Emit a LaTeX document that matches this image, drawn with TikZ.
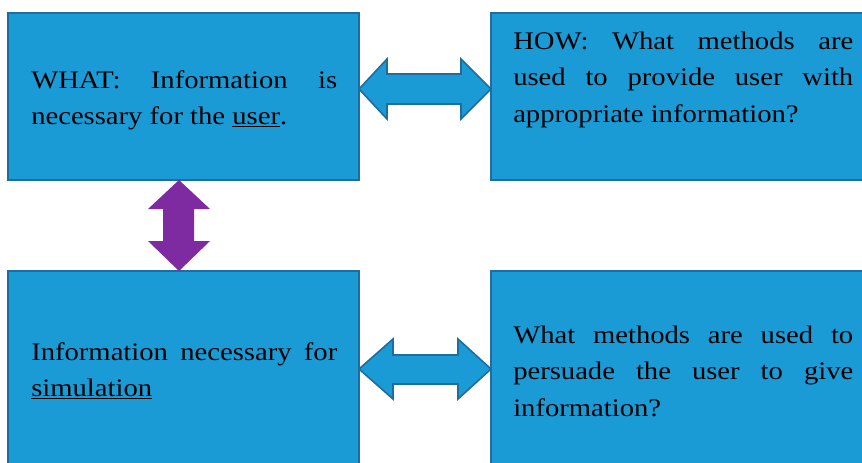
\documentclass[tikz,border=0pt]{standalone}
\usepackage{fontspec}
\setmainfont[FakeStretch=1.13]{Liberation Serif}
\usetikzlibrary{calc}

\definecolor{boxblue}{RGB}{26,155,214}
\definecolor{edgeblue}{RGB}{31,108,158}
\definecolor{arrowpurple}{RGB}{126,42,160}

\begin{document}
\begin{tikzpicture}[
    x=0.75pt, y=-0.75pt,
    box/.style={draw=edgeblue, fill=boxblue, line width=1.2pt, rectangle, inner sep=0pt, outer sep=0pt, anchor=north west},
    txt/.style={anchor=base west, inner sep=0pt, align=justify, font=\fontsize{19}{27.4}\selectfont},
    blockarrow/.style={draw=edgeblue, fill=boxblue, line width=1.2pt, line join=miter},
    vertarrow/.style={fill=arrowpurple}
]
\useasboundingbox (0,0) rectangle (862,462);
\clip (0,0) rectangle (862,462);

% Boxes
\node[box, minimum width=263.25pt, minimum height=125.25pt] (what) at (8,13) {};
\node[box, minimum width=300pt, minimum height=125.25pt] (how) at (491,13) {};
\node[box, minimum width=263.25pt, minimum height=165pt] (sim) at (8,271) {};
\node[box, minimum width=300pt, minimum height=165pt] (persuade) at (491,271) {};

% Texts
\node[txt, text width=229.5pt] (whattxt) at (31,88) {WHAT: Information is\linebreak necessary for the \underline{user}.};
\node[txt, text width=255pt] (howtxt) at (513,49) {HOW: What methods are\linebreak used to provide user with\linebreak appropriate information?};
\node[txt, text width=229.5pt] (simtxt) at (31,360) {Information necessary for\linebreak \underline{simulation}};
\node[txt, text width=255pt] (persuadetxt) at (513,343) {What methods are used to\linebreak persuade the user to give\linebreak information?};

% WHAT <-> HOW
\draw[blockarrow] (what.east |- 0,89) -- ++(28,-30) -- ++(0,15) -- ($(how.west |- 0,74)+(-30,0)$) -- ++(0,-15) -- (how.west |- 0,89) -- ++(-30,30) -- ++(0,-15) -- ($(what.east |- 0,104)+(28,0)$) -- ++(0,15) -- cycle;

% simulation <-> persuade
\draw[blockarrow] (sim.east |- 0,369) -- ++(34,-30) -- ++(0,16) -- ($(persuade.west |- 0,355)+(-33,0)$) -- ++(0,-16) -- (persuade.west |- 0,369) -- ++(-33,30) -- ++(0,-15) -- ($(sim.east |- 0,384)+(34,0)$) -- ++(0,15) -- cycle;

% WHAT <-> simulation
\fill[vertarrow] (what.south -| 179,0) -- ++(31,29) -- ++(-16,0) -- ($(sim.north -| 194,0)+(0,-30)$) -- ++(16,0) -- (sim.north -| 179,0) -- ++(-31,-30) -- ++(15,0) -- ($(what.south -| 163,0)+(0,29)$) -- ++(-15,0) -- cycle;

\end{tikzpicture}
\end{document}
